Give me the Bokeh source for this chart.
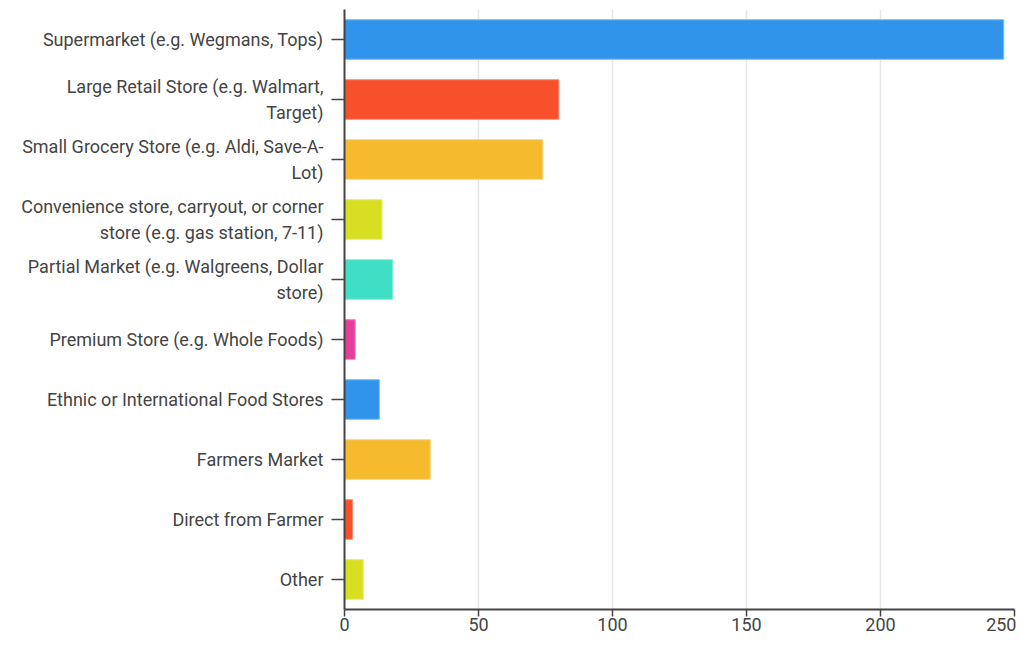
from bokeh.plotting import figure
from bokeh.models import ColumnDataSource, FactorRange
from bokeh.embed import file_html
from bokeh.resources import INLINE

categories = [
    "Supermarket (e.g. Wegmans, Tops)",
    "Large Retail Store (e.g. Walmart,\nTarget)",
    "Small Grocery Store (e.g. Aldi, Save-A-\nLot)",
    "Convenience store, carryout, or corner\nstore (e.g. gas station, 7-11)",
    "Partial Market (e.g. Walgreens, Dollar\nstore)",
    "Premium Store (e.g. Whole Foods)",
    "Ethnic or International Food Stores",
    "Farmers Market",
    "Direct from Farmer",
    "Other",
]
values = [246, 80, 74, 14, 18, 4, 13, 32, 3, 7]
colors = ["#3095EA", "#F7502B", "#F6BA2E", "#D8DF22", "#3FDFC6",
          "#E53E9E", "#3095EA", "#F6BA2E", "#F7502B", "#D8DF22"]
edge_colors = ["#7DBDF2", "#FA8F77", "#F9D47A", "#E6EB72", "#85EBDA",
               "#EE84C1", "#7DBDF2", "#F9D47A", "#FA8F77", "#E6EB72"]

source = ColumnDataSource(dict(cat=categories, val=values, color=colors, edge=edge_colors))

p = figure(
    width=1016, height=637,
    y_range=FactorRange(*categories[::-1], range_padding=0),
    x_range=(0, 250),
    output_backend="svg", toolbar_location=None,
    min_border_left=344, min_border_right=2, min_border_top=9, min_border_bottom=28,
)
p.hbar(y="cat", right="val", left=0, height=0.66, source=source,
       fill_color="color", line_color="edge", line_width=1)

p.outline_line_color = None
p.ygrid.grid_line_color = None
p.xgrid.grid_line_color = "#e6e6e6"
p.xgrid.grid_line_width = 1.5
p.xaxis.ticker = [0, 50, 100, 150, 200, 250]

for ax in (p.xaxis, p.yaxis):
    ax.axis_line_color = "#444444"
    ax.axis_line_width = 2
    ax.major_tick_line_color = "#444444"
    ax.major_tick_line_width = 1.5
    ax.minor_tick_line_color = None
    ax.major_tick_in = 0
    ax.major_label_text_font = "Roboto"
    ax.major_label_text_font_size = "18px"
    ax.major_label_text_color = "#444444"

p.xaxis.major_tick_out = 7
p.xaxis.major_label_standoff = 1
p.yaxis.major_tick_out = 13
p.yaxis.major_label_standoff = 8

open("out.html", "w").write(file_html(p, INLINE))
